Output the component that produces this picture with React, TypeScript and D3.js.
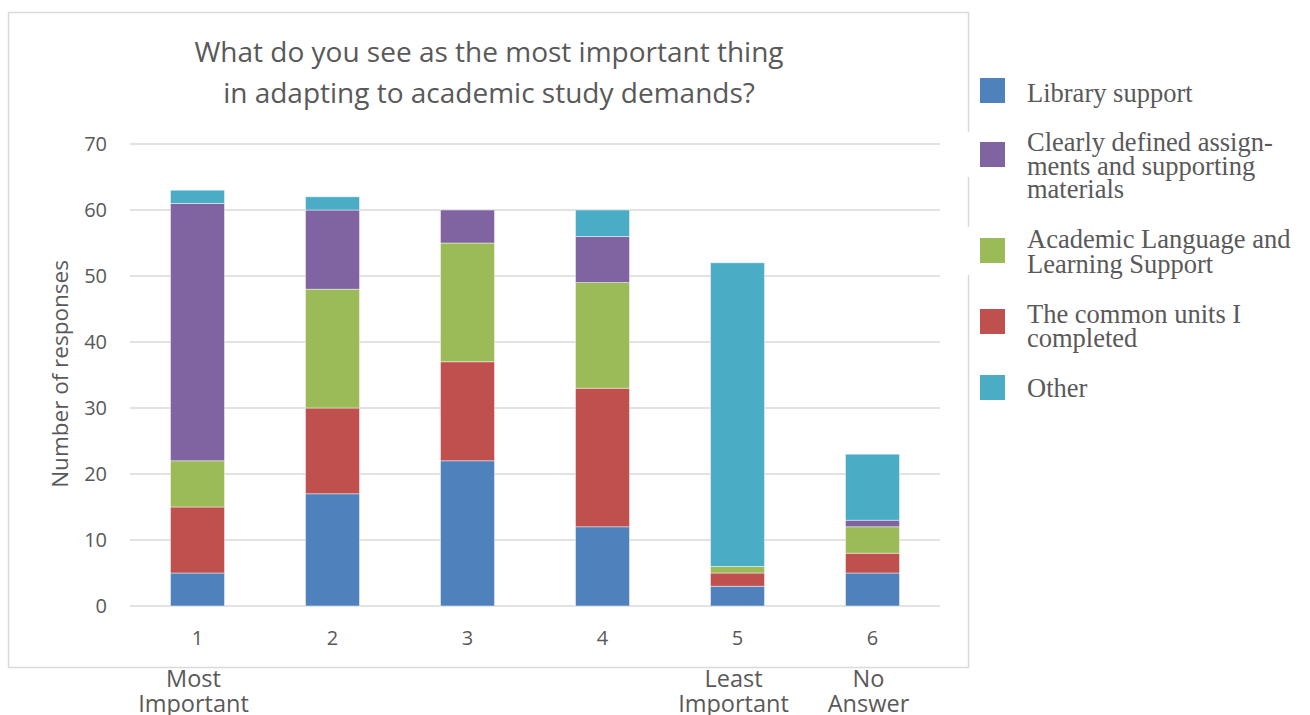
import React from "react";
import * as d3 from "d3";

const categories = ["1", "2", "3", "4", "5", "6"];
const subLabels = [["Most", "Important"], [], [], [], ["Least", "Important"], ["No", "Answer"]];
const library = [5, 17, 22, 12, 3, 5];
const commonUnits = [10, 13, 15, 21, 2, 3];
const academic = [7, 18, 18, 16, 1, 4];
const clearly = [39, 12, 5, 7, 0, 1];
const other = [2, 2, 0, 4, 46, 10];
const yTicks = [0, 10, 20, 30, 40, 50, 60, 70];

const seriesKeys = ["library", "common", "academic", "clearly", "other"];
const colors: Record<string, string> = {
  library: "#4F81BD",
  common: "#C0504D",
  academic: "#9BBB59",
  clearly: "#8064A2",
  other: "#4BACC6",
};
const legendItems = [
  { key: "library", lines: ["Library support"], sq: 78, base: [102] },
  { key: "clearly", lines: ["Clearly defined assign-", "ments and supporting", "materials"], sq: 142, base: [151, 175, 198] },
  { key: "academic", lines: ["Academic Language and", "Learning Support"], sq: 238, base: [248, 273] },
  { key: "common", lines: ["The common units I", "completed"], sq: 309, base: [323, 347] },
  { key: "other", lines: ["Other"], sq: 375, base: [397] },
];

const rows = categories.map((c, i) => ({
  cat: c,
  library: library[i],
  common: commonUnits[i],
  academic: academic[i],
  clearly: clearly[i],
  other: other[i],
}));

export default function App() {
  const x = d3.scaleBand<string>().domain(categories).range([130, 940]).paddingInner(0.6).paddingOuter(0.3);
  const y = d3.scaleLinear().domain([0, 70]).range([606, 144]);
  const stack = d3.stack<any>().keys(seriesKeys);
  const layers = stack(rows);
  const sans = "'Open Sans', sans-serif";
  const grey = "#595959";

  return (
    <svg width={1310} height={715} style={{ position: "absolute", left: 0, top: 0, background: "#fff" }}>
      <rect x={0} y={0} width={1310} height={715} fill="#fff" />
      <rect x={8.5} y={12.5} width={960} height={655} fill="none" stroke="#d9d9d9" strokeWidth={1.5} />
      <rect x={964} y={132} width={10} height={45} fill="#fff" />
      <rect x={964} y={227} width={10} height={48} fill="#fff" />

      <text x={489} y={62} textAnchor="middle" fontFamily={sans} fontSize={28} fill={grey}>
        What do you see as the most important thing
      </text>
      <text x={489} y={103} textAnchor="middle" fontFamily={sans} fontSize={28} fill={grey}>
        in adapting to academic study demands?
      </text>

      {yTicks.map((t) => (
        <g key={t}>
          <line x1={130} x2={940} y1={y(t)} y2={y(t)} stroke="#d9d9d9" strokeWidth={1.5} />
          <text x={107} y={y(t)} dy="0.35em" textAnchor="end" fontFamily={sans} fontSize={20} fill={grey}>
            {t}
          </text>
        </g>
      ))}

      <text
        transform={`translate(68,374) rotate(-90)`}
        textAnchor="middle"
        fontFamily={sans}
        fontSize={22.5}
        fill={grey}
      >
        Number of responses
      </text>

      {layers.map((layer) => (
        <g key={layer.key} fill={colors[layer.key]}>
          {layer.map((d: any, i: number) =>
            d[1] - d[0] > 0 ? (
              <rect
                key={i}
                x={x(d.data.cat)}
                width={x.bandwidth()}
                y={y(d[1])}
                height={y(d[0]) - y(d[1])}
                stroke="#ffffff"
                strokeOpacity={0.6}
                strokeWidth={0.75}
              />
            ) : null
          )}
        </g>
      ))}

      {categories.map((c, i) => {
        const cx = (x(c) as number) + x.bandwidth() / 2;
        return (
          <g key={c}>
            <text x={cx} y={645} textAnchor="middle" fontFamily={sans} fontSize={20} fill={grey}>
              {c}
            </text>
            {subLabels[i].map((s, j) => (
              <text key={j} x={cx - 4} y={687 + j * 25} textAnchor="middle" fontFamily={sans} fontSize={23.5} fill={grey}>
                {s}
              </text>
            ))}
          </g>
        );
      })}

      {legendItems.map((it) => (
        <g key={it.key}>
          <rect x={980} y={it.sq} width={25} height={25} fill={colors[it.key]} />
          {it.lines.map((l, j) => (
            <text key={j} x={1027} y={it.base[j]} fontFamily="'Liberation Serif', 'Times New Roman', serif" fontSize={26.5} fill={grey}>
              {l}
            </text>
          ))}
        </g>
      ))}
    </svg>
  );
}
